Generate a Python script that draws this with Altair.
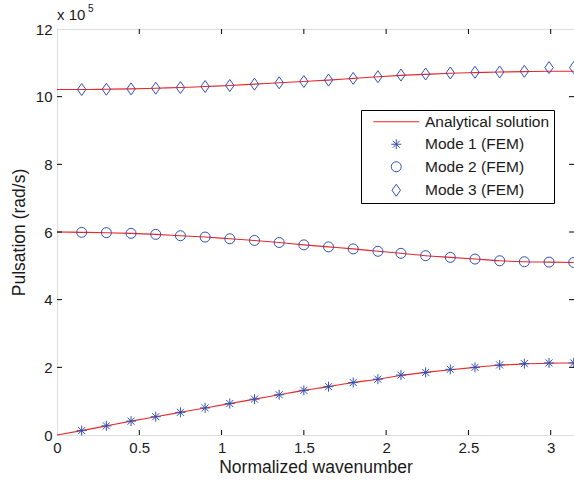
import altair as alt
import pandas as pd

# ---------------- data (values x 10^5 rad/s) ----------------
x_vals = [0.00, 0.15, 0.30, 0.45, 0.60, 0.75, 0.90, 1.05, 1.20, 1.35, 1.50,
          1.65, 1.80, 1.95, 2.09, 2.24, 2.39, 2.54, 2.69, 2.84, 2.99, 3.14]

# analytical curves
ana_mode1 = [0.00, 0.13, 0.27, 0.41, 0.54, 0.67, 0.80, 0.93, 1.06, 1.19, 1.32,
             1.43, 1.55, 1.65, 1.76, 1.85, 1.93, 2.00, 2.06, 2.10, 2.12, 2.13]
ana_mode2 = [6.00, 5.99, 5.98, 5.96, 5.93, 5.89, 5.85, 5.80, 5.75, 5.69, 5.62,
             5.56, 5.50, 5.43, 5.37, 5.30, 5.25, 5.20, 5.15, 5.12, 5.11, 5.10]
ana_mode3 = [10.21, 10.21, 10.22, 10.23, 10.25, 10.27, 10.30, 10.33, 10.37, 10.41, 10.45,
             10.49, 10.54, 10.59, 10.63, 10.66, 10.69, 10.71, 10.73, 10.74, 10.75, 10.75]

# FEM markers (k = 1 .. 21)
fem_x = x_vals[1:]
fem_mode1 = [0.13, 0.27, 0.41, 0.54, 0.67, 0.80, 0.93, 1.06, 1.19, 1.32,
             1.43, 1.55, 1.65, 1.77, 1.85, 1.94, 2.00, 2.07, 2.11, 2.13, 2.13]
fem_mode2 = [5.99, 5.98, 5.96, 5.93, 5.89, 5.85, 5.80, 5.75, 5.69, 5.62,
             5.56, 5.50, 5.43, 5.37, 5.30, 5.25, 5.20, 5.15, 5.12, 5.11, 5.10]
fem_mode3 = [10.21, 10.22, 10.23, 10.25, 10.27, 10.30, 10.33, 10.37, 10.41, 10.45,
             10.49, 10.54, 10.59, 10.64, 10.67, 10.70, 10.72, 10.73, 10.75, 10.86, 10.86]

series_names = ["Analytical solution", "Mode 1 (FEM)", "Mode 2 (FEM)", "Mode 3 (FEM)"]
x_ticks = [0.5, 1, 1.5, 2, 2.5, 3]
y_ticks = [2, 4, 6, 8, 10]

# ---------------- tables ----------------
line_rows = []
for name, ys in [("m1", ana_mode1), ("m2", ana_mode2), ("m3", ana_mode3)]:
    for xv, yv in zip(x_vals, ys):
        line_rows.append({"x": xv, "y": yv, "mode": name})
df_line = pd.DataFrame(line_rows)

pt_rows = []
for name, ys in [(series_names[1], fem_mode1), (series_names[2], fem_mode2), (series_names[3], fem_mode3)]:
    for xv, yv in zip(fem_x, ys):
        pt_rows.append({"x": xv, "y": yv, "series": name})
df_pts = pd.DataFrame(pt_rows)

df_xt = pd.DataFrame({"x": x_ticks})
df_yt = pd.DataFrame({"y": y_ticks})

W, H = 517, 406
FONT = "Liberation Sans"
RED = "#e8262b"
BLUE = "#3050b8"
TXT = "#1a1a1a"

line_path = "M-4.6,0L4.6,0"
star_path = "M0,-1L0,1M-1,0L1,0M-0.7,-0.7L0.7,0.7M-0.7,0.7L0.7,-0.7"
diamond_path = "M0,-1.2L0.85,0L0,1.2L-0.85,0Z"

xscale = alt.Scale(domain=[0, 3.1416], nice=False, zero=False)
yscale = alt.Scale(domain=[0, 12], nice=False)

x_axis = alt.Axis(values=[0] + x_ticks, format="~g", title="Normalized wavenumber", grid=False, ticks=False,
                  domain=False, labelFontSize=15, labelPadding=5, titleFontSize=17.5,
                  titlePadding=3, labelFont=FONT, titleFont=FONT, labelColor=TXT,
                  titleColor=TXT, titleFontWeight="normal", labelFlush=False)
y_axis = alt.Axis(values=[0] + y_ticks + [12], format="~g", title="Pulsation (rad/s)", grid=False, ticks=False,
                  domain=False, labelFontSize=15, labelPadding=5, titleFontSize=17.5,
                  titlePadding=7, labelFont=FONT, titleFont=FONT, labelColor=TXT,
                  titleColor=TXT, titleFontWeight="normal", labelFlush=False)

legend_opts = dict(
    title=None, orient="none", legendX=304, legendY=81,
    strokeColor="black", fillColor="white", padding=4,
    labelFont=FONT, labelFontSize=15.5, labelColor=TXT,
    rowPadding=5.5, symbolSize=100, symbolStrokeWidth=1,
    symbolOffset=23.5, labelOffset=21,
)

lines = alt.Chart(df_line).mark_line(color=RED, strokeWidth=1.1, interpolate="monotone").encode(
    x=alt.X("x:Q", scale=xscale, axis=x_axis),
    y=alt.Y("y:Q", scale=yscale, axis=y_axis),
    detail="mode:N",
)

points = alt.Chart(df_pts).mark_point(filled=False, size=100, strokeWidth=1, opacity=1).encode(
    x=alt.X("x:Q", scale=xscale),
    y=alt.Y("y:Q", scale=yscale),
    shape=alt.Shape("series:N",
                    scale=alt.Scale(domain=series_names,
                                    range=[line_path, star_path, "circle", diamond_path]),
                    legend=alt.Legend(**legend_opts)),
    color=alt.Color("series:N",
                    scale=alt.Scale(domain=series_names, range=[RED, BLUE, BLUE, BLUE]),
                    legend=alt.Legend(**legend_opts)),
)

tick_top = alt.Chart(df_xt).mark_rule(color="black", strokeWidth=1).encode(
    x=alt.X("x:Q", scale=xscale), y=alt.value(0), y2=alt.value(5))
tick_bot = alt.Chart(df_xt).mark_rule(color="black", strokeWidth=1).encode(
    x=alt.X("x:Q", scale=xscale), y=alt.value(H), y2=alt.value(H - 5))
tick_left = alt.Chart(df_yt).mark_rule(color="black", strokeWidth=1).encode(
    y=alt.Y("y:Q", scale=yscale), x=alt.value(0), x2=alt.value(5))
tick_right = alt.Chart(df_yt).mark_rule(color="black", strokeWidth=1).encode(
    y=alt.Y("y:Q", scale=yscale), x=alt.value(W - 5), x2=alt.value(W))

exp_base = alt.Chart(pd.DataFrame({"t": ["x 10"]})).mark_text(
    align="left", baseline="alphabetic", fontSize=15, font=FONT, color=TXT).encode(
    text="t:N", x=alt.value(0), y=alt.value(-9))
exp_sup = alt.Chart(pd.DataFrame({"t": ["5"]})).mark_text(
    align="left", baseline="alphabetic", fontSize=10, font=FONT, color=TXT).encode(
    text="t:N", x=alt.value(31), y=alt.value(-17))

chart = alt.layer(lines, points, tick_top, tick_bot, tick_left, tick_right, exp_base, exp_sup).properties(
    width=W, height=H,
    autosize=alt.AutoSizeParams(type="none"),
    padding={"left": 57, "top": 29, "right": 0, "bottom": 49},
).configure_view(stroke="black", strokeWidth=1).configure(background="white")

chart.save("out.html", embed_options={"renderer": "svg", "actions": False})
